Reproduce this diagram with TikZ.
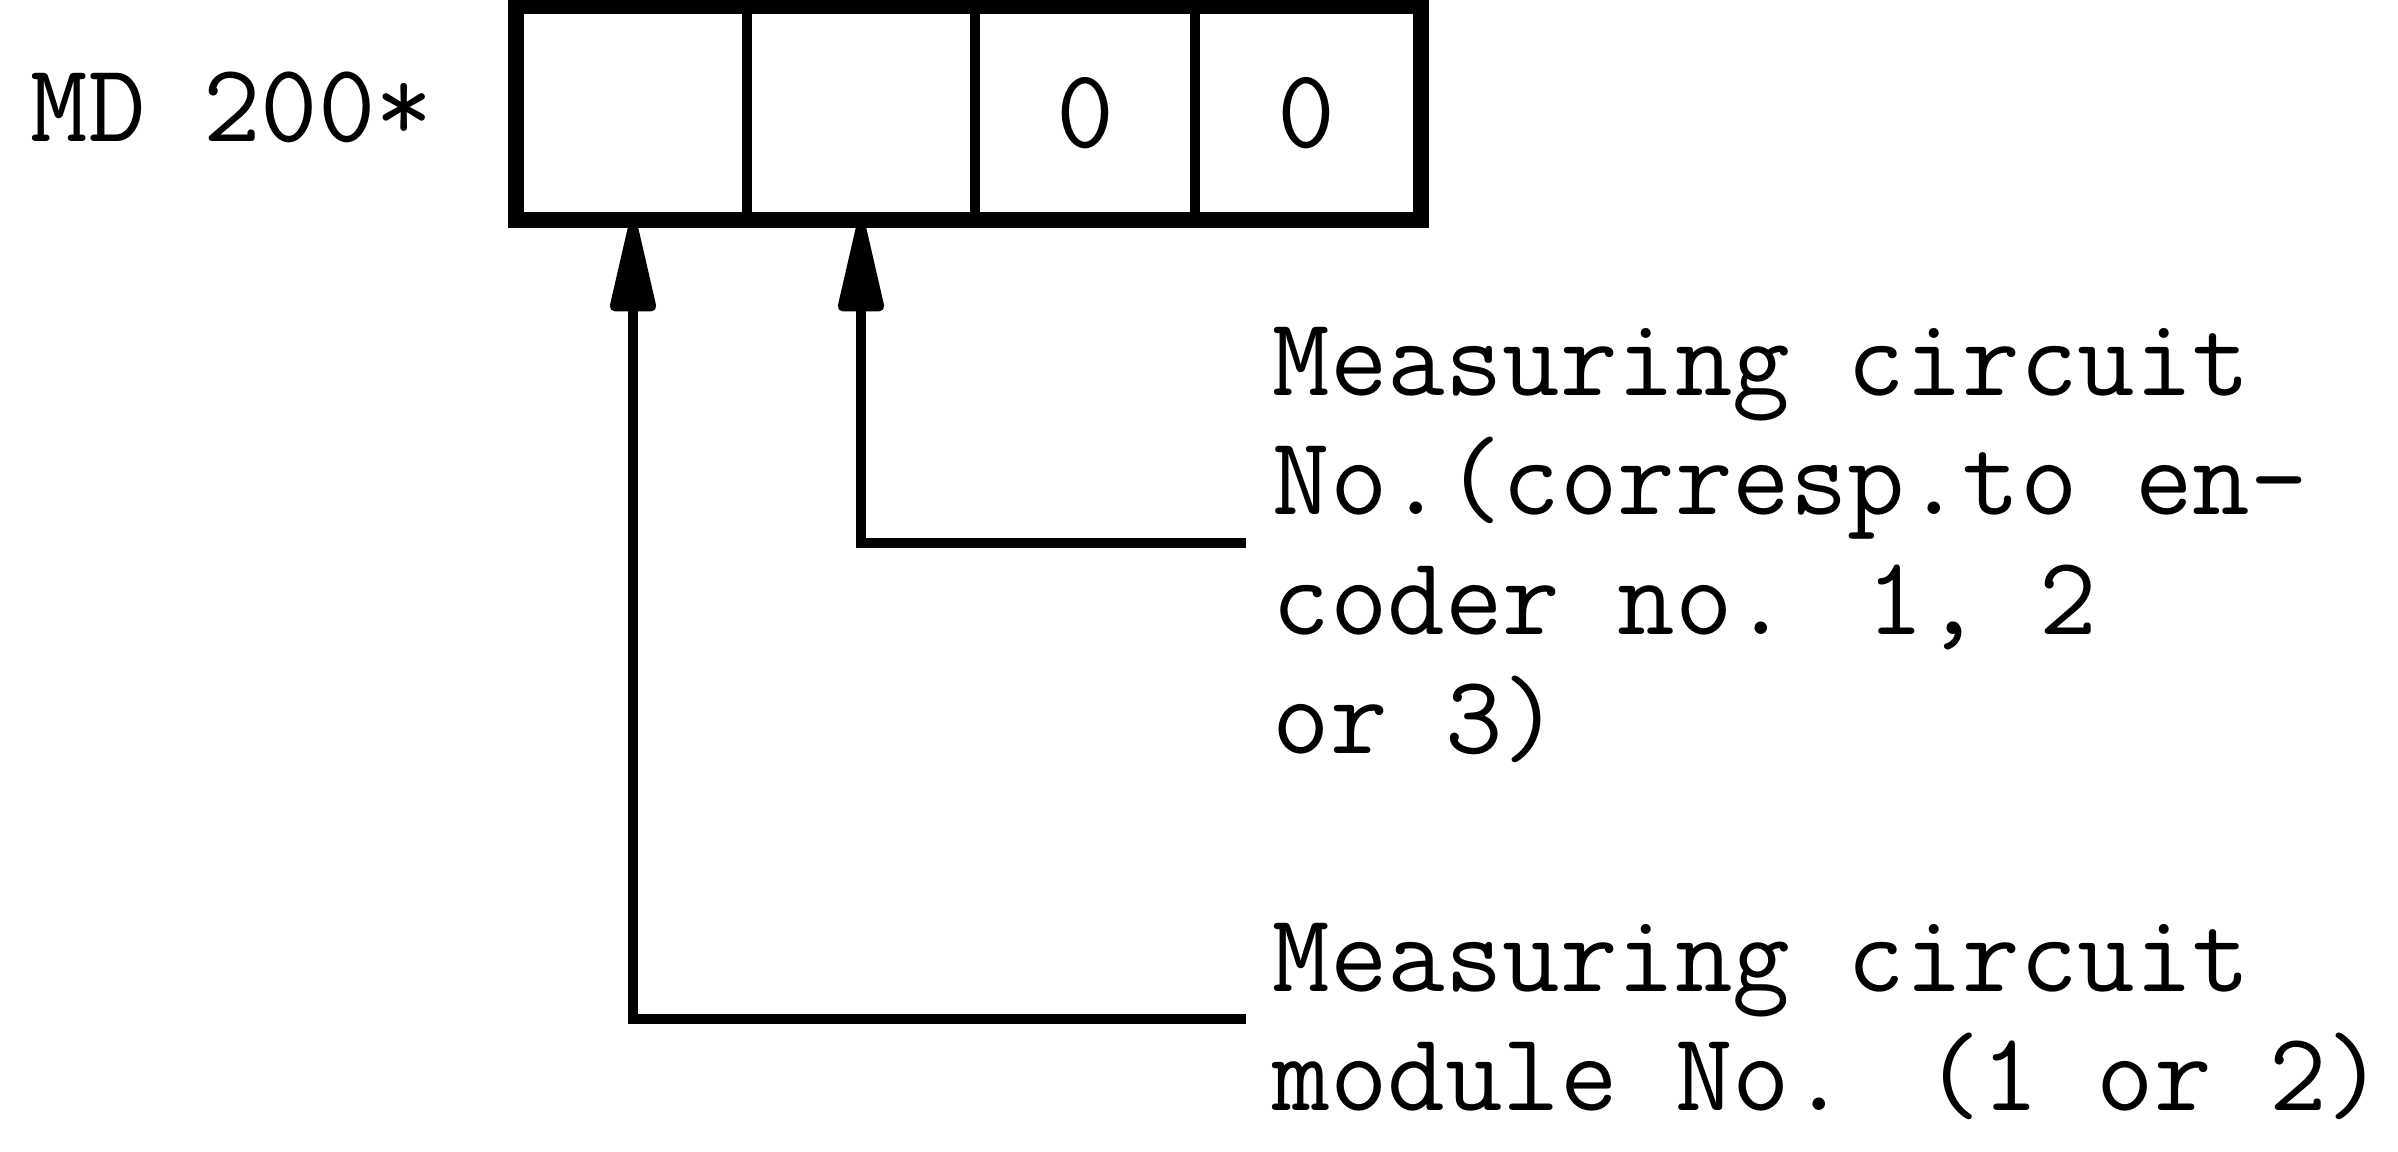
\documentclass[tikz,border=0pt]{standalone}
\usepackage{fontspec}
\usetikzlibrary{arrows.meta}
\begin{document}
\begin{tikzpicture}[x=0.01cm,y=-0.01cm,
  txt/.style={font=\fontsize{31.75pt}{34pt}\selectfont\ttfamily, inner sep=0pt, anchor=base west},
  cell/.style={draw, line width=2.8pt, minimum height=2.08cm, inner sep=0pt,
    font=\fontsize{32pt}{34pt}\selectfont\ttfamily},
  outer/.style={line width=3.4pt},
  conn/.style={line width=2.8pt, -{Triangle[length=1.08cm,width=0.46cm,round]}}]
\useasboundingbox (0,0) rectangle (2398,1151);
% cells
\node[cell, minimum width=2.28cm] (c1) at (633,113) {};
\node[cell, minimum width=2.28cm] (c2) at (861,113) {};
\node[cell, minimum width=2.20cm] (c3) at (1085,113) {0};
\node[cell, minimum width=2.23cm] (c4) at (1306.5,113) {0};
\draw[outer] (c1.north west) rectangle (c4.south east);
% texts
\node[txt] (md) at (30,141) {MD 200*};
\node[txt] (a1) at (1272,395) {Measuring circuit};
\node[txt] (a2) at (1272,514) {No.(corresp.to en-};
\node[txt] (a3) at (1272,634) {coder no. 1, 2};
\node[txt] (a4) at (1272,753) {or 3)};
\node[txt] (b1) at (1272,991) {Measuring circuit};
\node[txt] (b2) at (1272,1110) {module No. (1 or 2)};
% connectors
\coordinate (e2) at (1246,543);
\coordinate (e1) at (1246,1019);
\draw[conn] (e2) -| (c2.south);
\draw[conn] (e1) -| (c1.south);
\end{tikzpicture}
\end{document}
